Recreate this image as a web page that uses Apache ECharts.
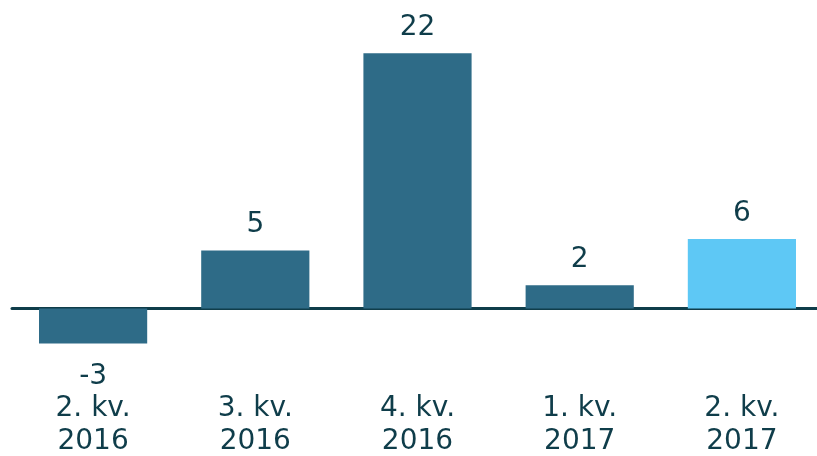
<!DOCTYPE html>
<html>
<head>
<meta charset="utf-8">
<script src="https://cdn.jsdelivr.net/npm/echarts@6/dist/echarts.min.js"></script>
<style>
    html, body { margin: 0; padding: 0; background: #fff; }
    #chart { width: 817px; height: 456px; }
</style>
</head>
<body>
<div id="chart"></div>
<script>
const categories = ['2. kv.\n2016', '3. kv.\n2016', '4. kv.\n2016', '1. kv.\n2017', '2. kv.\n2017']
const values = [-3, 5, 22, 2, 6]
const barColors = ['#2e6b87', '#2e6b87', '#2e6b87', '#2e6b87', '#5ec8f5']

const textColor = '#0f3d4a'
const font = 'DejaVu Sans, Verdana, sans-serif'

let myChart = echarts.init(document.getElementById('chart'), null, { renderer: 'canvas' })

const data = values.map((v, i) => ({
    value: v,
    itemStyle: { color: barColors[i] },
    label: {
        position: v < 0 ? 'bottom' : 'top',
        distance: v < 0 ? 17 : 9
    }
}))

myChart.setOption({
    animation: false,
    grid: { left: 12, right: -6, top: 30, bottom: 101, containLabel: false, outerBoundsMode: 'none' },
    xAxis: {
        type: 'category',
        data: categories,
        axisLine: { onZero: true, lineStyle: { color: textColor, width: 3 } },
        axisTick: { show: false },
        axisLabel: {
            margin: 37,
            color: textColor,
            fontFamily: font,
            fontSize: 28,
            lineHeight: 33,
            interval: 0
        }
    },
    yAxis: {
        type: 'value',
        min: -4,
        max: 24,
        show: false,
        splitLine: { show: false }
    },
    series: [{
        type: 'bar',
        data,
        barWidth: '66.7%',
        label: {
            show: true,
            color: textColor,
            fontFamily: font,
            fontSize: 28,
            lineHeight: 33
        }
    }]
})
</script>
</body>
</html>
